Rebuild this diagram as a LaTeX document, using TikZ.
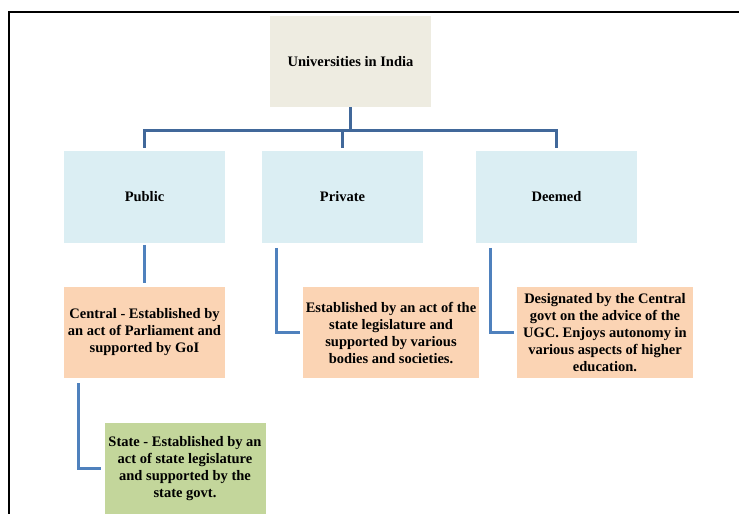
\documentclass[tikz,border=0pt]{standalone}
\usepackage{fontspec}
\setmainfont{Liberation Serif}
\usetikzlibrary{positioning}
\definecolor{rootfill}{HTML}{EEECE1}
\definecolor{typefill}{HTML}{DBEEF3}
\definecolor{descfill}{HTML}{FBD4B4}
\definecolor{statefill}{HTML}{C3D69B}
\definecolor{linkblue}{HTML}{4F81BD}
\definecolor{busblue}{HTML}{41689A}
\begin{document}
\begin{tikzpicture}[x=1pt, y=1pt, node distance=135.5pt,
    box/.style={minimum width=161pt, minimum height=91.5pt, inner sep=2pt, align=center,
      font=\bfseries\fontsize{14.5}{17}\selectfont},
    wide/.style={box, minimum width=176pt},
    link/.style={draw=linkblue, line width=3pt},
    bus/.style={draw=busblue, line width=3pt}]
    \useasboundingbox (0,0) rectangle (739,-514);
    \draw[line width=2pt] (8.5,-514) -- (8.5,-11.5) -- (739,-11.5);
    \node (U) [box, fill=rootfill] at (350.5,-61.5) {Universities in India};
    \node (Pub) [box, fill=typefill, below of=U, xshift=-206pt] {Public};
    \node (Pri) [box, fill=typefill, node distance=198pt, right of=Pub] {Private};
    \node (Dee) [box, fill=typefill, node distance=214pt, right of=Pri] {Deemed};
    \node (Cen) [box, fill=descfill, below of=Pub] {Central - Established by\\an act of Parliament and\\supported by GoI};
    \node (Sta) [box, fill=statefill, node distance=136pt, below of=Cen, xshift=40.5pt] {State - Established by an\\act of state legislature\\and supported by the\\state govt.};
    \node (PriD) [wide, fill=descfill, below of=Pri, xshift=48.5pt] {Established by an act of the\\state legislature and\\supported by various\\bodies and societies.};
    \node (DeeD) [wide, fill=descfill, below of=Dee, xshift=48.5pt] {Designated by the Central\\govt on the advice of the\\UGC. Enjoys autonomy in\\various aspects of higher\\education.};
    \draw[bus] (U.south) -- ++(0,-23) -| ([yshift=3pt]Pub.north);
    \draw[bus] (U.south) -- ++(0,-23) -| ([yshift=3pt]Pri.north);
    \draw[bus] (U.south) -- ++(0,-23) -| ([yshift=3pt]Dee.north);
    \draw[link] ([yshift=-2pt]Pub.south) -- ([yshift=4pt]Cen.north);
    \draw[link] ([xshift=15pt, yshift=-5pt]Cen.south west) |- ([xshift=-3pt]Sta.west);
    \draw[link] ([xshift=15pt, yshift=-5pt]Pri.south west) |- ([xshift=-3pt]PriD.west);
    \draw[link] ([xshift=15pt, yshift=-5pt]Dee.south west) |- ([xshift=-3pt]DeeD.west);
  \end{tikzpicture}
\end{document}
